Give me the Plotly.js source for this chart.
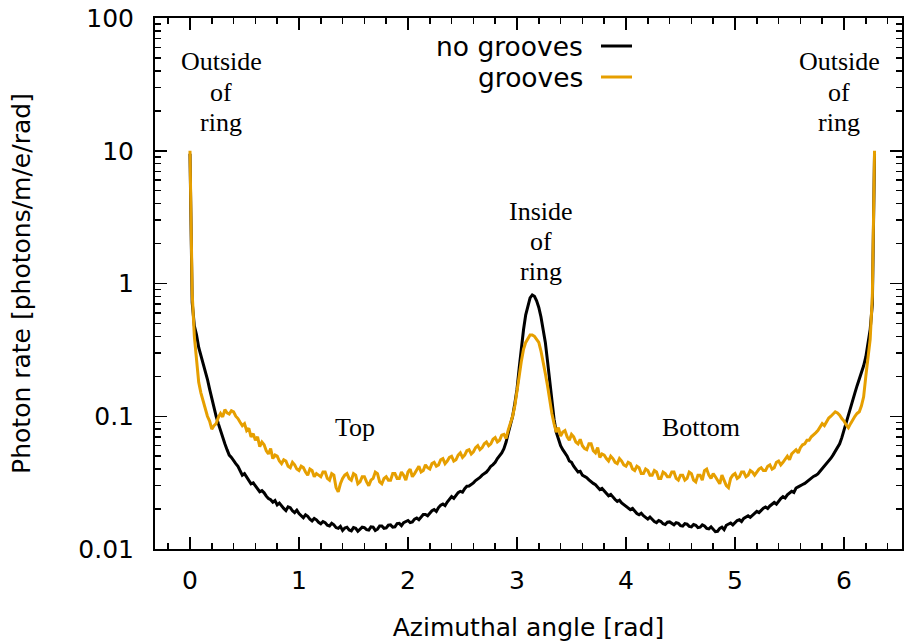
<!DOCTYPE html>
<html><head><meta charset="utf-8">
<script src="https://cdn.plot.ly/plotly-3.0.1.min.js"></script>
<style>html,body{margin:0;padding:0;background:#fff}#chart{width:904px;height:644px}</style>
</head><body><div id="chart"></div>
<script>
// Azimuthal angle grid: first bin and bin width [rad]
const angleStart = 0;
const angleStep = 0.02;

// Photon rate, no grooves (one value per 0.02 rad, 0 ... 6.28; rows of 0.2 rad)
const noGrooves = [
  9.5, 0.72, 0.48, 0.41, 0.33, 0.29, 0.25, 0.215, 0.19, 0.16,
  0.135, 0.118, 0.10, 0.088, 0.078, 0.068, 0.062, 0.056, 0.051, 0.049,
  0.046, 0.044, 0.042, 0.039, 0.036, 0.037, 0.035, 0.033, 0.031, 0.0315,
  0.030, 0.028, 0.027, 0.0275, 0.0265, 0.025, 0.024, 0.0235, 0.0225, 0.0232,
  0.0215, 0.0222, 0.021, 0.0202, 0.0195, 0.0208, 0.0205, 0.0194, 0.0188, 0.0196,
  0.0185, 0.0178, 0.0172, 0.0181, 0.0176, 0.0168, 0.0163, 0.0170, 0.0166, 0.0159,
  0.0155, 0.0161, 0.0158, 0.0151, 0.0149, 0.0156, 0.0152, 0.0145, 0.0143, 0.0148,
  0.0138, 0.0144, 0.0146, 0.0139, 0.0137, 0.0145, 0.0143, 0.0136, 0.0140, 0.0146,
  0.0145, 0.0140, 0.0139, 0.0147, 0.0146, 0.0138, 0.0141, 0.0149, 0.0149, 0.0143,
  0.0144, 0.0151, 0.0152, 0.0146, 0.0147, 0.0155, 0.0156, 0.0150, 0.0158, 0.0162,
  0.0164, 0.0158, 0.0160, 0.0168, 0.0171, 0.0166, 0.0175, 0.0182, 0.0182, 0.0178,
  0.0186, 0.0194, 0.0198, 0.0192, 0.0205, 0.0214, 0.0218, 0.0212, 0.0226, 0.0236,
  0.0248, 0.0241, 0.0256, 0.0266, 0.0272, 0.0268, 0.0285, 0.0297, 0.0298, 0.0306,
  0.0315, 0.0328, 0.0335, 0.0346, 0.036, 0.0368, 0.038, 0.0398, 0.042, 0.0432,
  0.045, 0.048, 0.050, 0.053, 0.057, 0.064, 0.075, 0.086, 0.10, 0.125,
  0.16, 0.23, 0.33, 0.45, 0.58, 0.69, 0.78, 0.82, 0.80, 0.74,
  0.66, 0.56, 0.46, 0.36, 0.26, 0.18, 0.13, 0.095, 0.076, 0.066,
  0.060, 0.056, 0.053, 0.050, 0.046, 0.045, 0.042, 0.040, 0.038, 0.0385,
  0.036, 0.0352, 0.0345, 0.0332, 0.032, 0.0312, 0.0305, 0.029, 0.028, 0.0286,
  0.0275, 0.0262, 0.0252, 0.0258, 0.0245, 0.0236, 0.0228, 0.0233, 0.0222, 0.0216,
  0.0212, 0.0206, 0.0198, 0.0202, 0.0192, 0.0185, 0.0181, 0.0186, 0.0178, 0.0172,
  0.0168, 0.0174, 0.0166, 0.0161, 0.0158, 0.0164, 0.0161, 0.0155, 0.0153, 0.0159,
  0.0160, 0.0156, 0.0152, 0.0158, 0.0156, 0.0150, 0.0149, 0.0155, 0.0154, 0.0148,
  0.0147, 0.0153, 0.0151, 0.0145, 0.0146, 0.0152, 0.0149, 0.0143, 0.0142, 0.0147,
  0.0141, 0.0135, 0.0136, 0.0143, 0.0146, 0.0140, 0.0151, 0.0155, 0.0157, 0.0152,
  0.0159, 0.0164, 0.0166, 0.0161, 0.0170, 0.0175, 0.0178, 0.0173, 0.0180, 0.0187,
  0.0192, 0.0188, 0.0196, 0.0203, 0.0207, 0.0202, 0.0211, 0.0219, 0.0224, 0.0218,
  0.0231, 0.0240, 0.0248, 0.0242, 0.0256, 0.0266, 0.0272, 0.0267, 0.0288, 0.0294,
  0.0298, 0.0306, 0.0312, 0.0322, 0.0328, 0.0340, 0.0352, 0.0358, 0.0368, 0.0385,
  0.0402, 0.0418, 0.0438, 0.0458, 0.0483, 0.0512, 0.055, 0.058, 0.062, 0.069,
  0.078, 0.088, 0.10, 0.115, 0.13, 0.15, 0.17, 0.19, 0.22, 0.24,
  0.28, 0.35, 0.45, 0.70, 9.5
];

// Photon rate, grooves
const grooves = [
  10, 0.85, 0.40, 0.25, 0.18, 0.15, 0.13, 0.115, 0.10, 0.092,
  0.080, 0.085, 0.088, 0.098, 0.105, 0.099, 0.112, 0.106, 0.104, 0.110,
  0.108, 0.100, 0.096, 0.090, 0.085, 0.088, 0.078, 0.081, 0.070, 0.074,
  0.066, 0.070, 0.059, 0.064, 0.061, 0.055, 0.052, 0.057, 0.048, 0.051,
  0.050, 0.046, 0.044, 0.047, 0.046, 0.042, 0.041, 0.045, 0.043, 0.040,
  0.039, 0.042, 0.041, 0.038, 0.036, 0.040, 0.039, 0.035, 0.037, 0.036,
  0.035, 0.038, 0.038, 0.034, 0.033, 0.037, 0.036, 0.029, 0.027, 0.031,
  0.034, 0.036, 0.037, 0.034, 0.033, 0.037, 0.036, 0.031, 0.032, 0.035,
  0.035, 0.032, 0.030, 0.033, 0.034, 0.038, 0.037, 0.032, 0.031, 0.034,
  0.035, 0.033, 0.033, 0.037, 0.037, 0.034, 0.034, 0.038, 0.036, 0.033,
  0.038, 0.040, 0.035, 0.037, 0.040, 0.042, 0.038, 0.039, 0.043, 0.041,
  0.040, 0.044, 0.045, 0.042, 0.043, 0.047, 0.048, 0.044, 0.046, 0.049,
  0.050, 0.046, 0.047, 0.051, 0.053, 0.049, 0.051, 0.055, 0.056, 0.052,
  0.054, 0.058, 0.060, 0.056, 0.058, 0.062, 0.064, 0.060, 0.062, 0.067,
  0.069, 0.064, 0.066, 0.072, 0.073, 0.068, 0.079, 0.090, 0.10, 0.12,
  0.15, 0.20, 0.26, 0.32, 0.36, 0.39, 0.41, 0.41, 0.40, 0.38,
  0.36, 0.31, 0.26, 0.21, 0.17, 0.13, 0.105, 0.088, 0.076, 0.082,
  0.071, 0.076, 0.078, 0.070, 0.066, 0.073, 0.070, 0.064, 0.062, 0.067,
  0.060, 0.057, 0.056, 0.062, 0.062, 0.055, 0.053, 0.058, 0.049, 0.052,
  0.051, 0.048, 0.046, 0.050, 0.048, 0.045, 0.044, 0.048, 0.046, 0.043,
  0.042, 0.045, 0.044, 0.040, 0.039, 0.042, 0.041, 0.037, 0.037, 0.040,
  0.039, 0.036, 0.036, 0.039, 0.038, 0.034, 0.034, 0.038, 0.037, 0.035,
  0.035, 0.038, 0.038, 0.034, 0.033, 0.036, 0.036, 0.033, 0.034, 0.038,
  0.037, 0.033, 0.032, 0.036, 0.036, 0.033, 0.039, 0.040, 0.036, 0.034,
  0.037, 0.035, 0.033, 0.031, 0.036, 0.033, 0.030, 0.029, 0.034, 0.036,
  0.037, 0.034, 0.035, 0.038, 0.038, 0.035, 0.036, 0.039, 0.038, 0.036,
  0.038, 0.040, 0.041, 0.039, 0.039, 0.042, 0.043, 0.040, 0.041, 0.045,
  0.046, 0.043, 0.045, 0.048, 0.050, 0.047, 0.052, 0.054, 0.056, 0.053,
  0.058, 0.061, 0.062, 0.066, 0.066, 0.070, 0.072, 0.075, 0.078, 0.082,
  0.088, 0.085, 0.092, 0.097, 0.100, 0.104, 0.108, 0.106, 0.102, 0.096,
  0.092, 0.086, 0.082, 0.088, 0.095, 0.100, 0.105, 0.108, 0.120, 0.140,
  0.20, 0.28, 0.38, 0.80, 10
];

const seriesNames = ["no grooves", "grooves"];
const xTickVals = [0, 1, 2, 3, 4, 5, 6];
const yTickVals = [0.01, 0.1, 1, 10, 100];
const yTickText = ["0.01", "0.1", "1", "10", "100"];

const colBlack = "#000000";
const colOrange = "#E69F00";

// minor log ticks 2..9 per decade
const yMinor = [];
for (let d = -2; d < 2; d++) for (let m = 2; m <= 9; m++) yMinor.push(m * Math.pow(10, d));

const traces = [
  {type: "scatter", mode: "lines", name: seriesNames[0], x0: angleStart, dx: angleStep, y: noGrooves,
   line: {color: colBlack, width: 3}, showlegend: false},
  {type: "scatter", mode: "lines", name: seriesNames[1], x0: angleStart, dx: angleStep, y: grooves,
   line: {color: colOrange, width: 3}, showlegend: false}
];

// helpers: pixel -> paper
const L = 155, R = 902, T = 18, B = 549;
const px = v => (v - L) / (R - L);
const py = v => (B - v) / (B - T);

const serif = {family: "Liberation Serif, Times New Roman, serif", size: 26, color: "#000"};
const sans = {family: "DejaVu Sans, sans-serif", size: 25, color: "#000"};
const legendFont = {family: "DejaVu Sans, sans-serif", size: 26.5, color: "#000"};

function lbl(text, x, y, font, xanchor) {
  return {text: text, xref: "paper", yref: "paper", x: px(x), y: py(y), showarrow: false,
          xanchor: xanchor || "center", yanchor: "middle", font: font};
}

const annotations = [
  lbl("Outside", 221, 62, serif), lbl("of", 221, 92, serif), lbl("ring", 221, 122, serif),
  lbl("Outside", 839, 62, serif), lbl("of", 839, 92, serif), lbl("ring", 839, 122, serif),
  lbl("Inside", 541, 211, serif), lbl("of", 541, 241, serif), lbl("ring", 541, 271, serif),
  lbl("Top", 355, 427, serif), lbl("Bottom", 701, 427, serif),
  lbl(seriesNames[0], 585, 46, legendFont, "right"), lbl(seriesNames[1], 585, 77, legendFont, "right")
];

const shapes = [
  {type: "line", xref: "paper", yref: "paper", x0: px(601), x1: px(632), y0: py(46), y1: py(46),
   line: {color: colBlack, width: 3}},
  {type: "line", xref: "paper", yref: "paper", x0: px(601), x1: px(632), y0: py(77), y1: py(77),
   line: {color: colOrange, width: 3}}
];

const layout = {
  width: 904, height: 644,
  margin: {l: 155, r: 2, t: 18, b: 95},
  paper_bgcolor: "#fff", plot_bgcolor: "#fff",
  showlegend: false,
  font: sans,
  xaxis: {
    range: [-0.321, 6.532], tickmode: "array", tickvals: xTickVals,
    ticks: "inside", ticklen: 12, tickwidth: 1.5, tickcolor: "#000",
    showline: true, linecolor: "#000", linewidth: 2, mirror: "ticks",
    showgrid: false, zeroline: false,
    tickfont: sans, ticklabelstandoff: 8,
    minor: {dtick: 0.2, tick0: 0, ticks: "inside", ticklen: 6, tickwidth: 1.5, tickcolor: "#000", showgrid: false},
    title: {text: "Azimuthal angle [rad]", font: sans, standoff: 24}
  },
  yaxis: {
    type: "log", range: [-2, 2], tickmode: "array", tickvals: yTickVals, ticktext: yTickText,
    ticks: "inside", ticklen: 12, tickwidth: 1.5, tickcolor: "#000",
    showline: true, linecolor: "#000", linewidth: 2, mirror: "ticks",
    showgrid: false, zeroline: false,
    tickfont: sans, ticklabelstandoff: 14,
    minor: {tickmode: "array", tickvals: yMinor, ticks: "inside", ticklen: 6, tickwidth: 1.5, tickcolor: "#000", showgrid: false},
    title: {text: "Photon rate [photons/m/e/rad]", font: sans, standoff: 41}
  },
  annotations: annotations,
  shapes: shapes
};

Plotly.newPlot("chart", traces, layout, {displayModeBar: false, staticPlot: true});
</script>
</body></html>
